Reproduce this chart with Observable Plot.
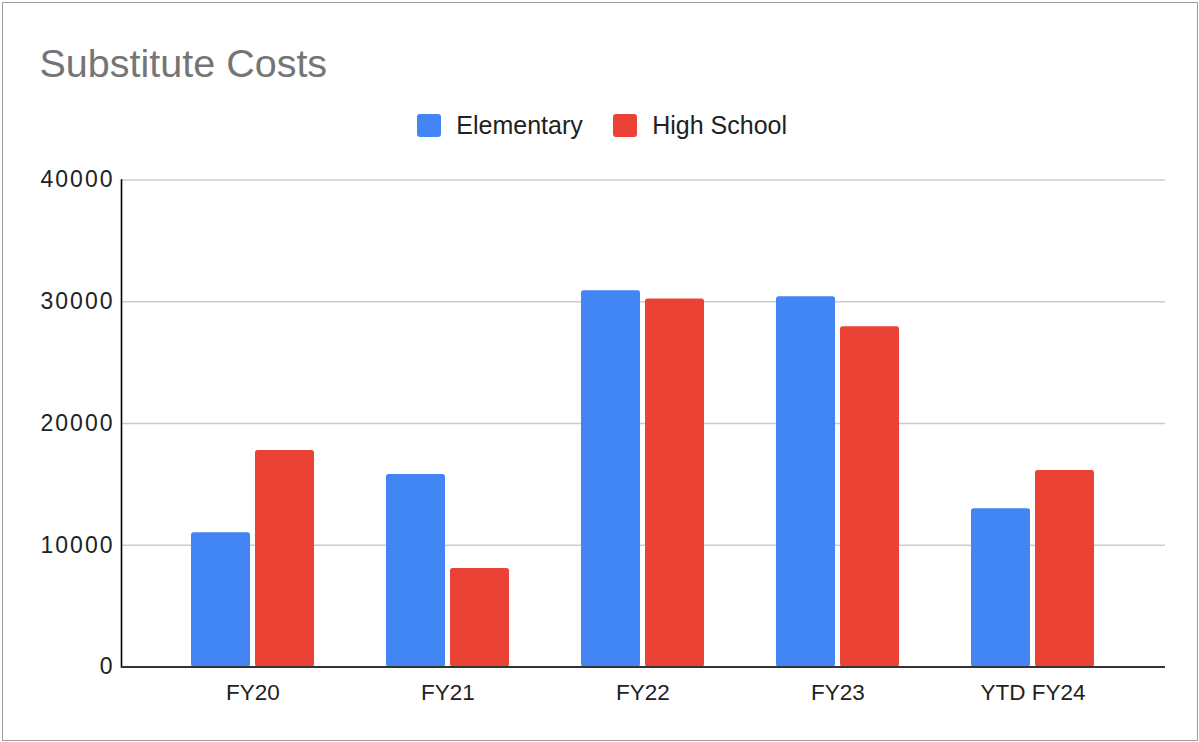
<!DOCTYPE html>
<html><head><meta charset="utf-8">
<script src="https://cdn.jsdelivr.net/npm/d3@7"></script>
<script src="https://cdn.jsdelivr.net/npm/@observablehq/plot@0.6"></script>
<style>
body{margin:0;background:#fff;font-family:"Liberation Sans",Arial,sans-serif;}
#wrap{position:relative;width:1199px;height:742px;overflow:hidden;background:#fff;}
#frame{position:absolute;left:2px;top:2px;width:1196px;height:739px;border:1px solid #9e9e9e;box-sizing:border-box;pointer-events:none;}
#title{position:absolute;left:39.5px;top:43.5px;font-size:39.5px;line-height:1;color:#757575;white-space:nowrap;}
#legend{position:absolute;top:114px;left:0;height:23px;}
.sw{position:absolute;top:0;width:23.5px;height:23px;border-radius:3px;}
.lt{position:absolute;top:-0.9px;font-size:25px;line-height:25px;color:#222;white-space:nowrap;}
#chart{position:absolute;left:0;top:150px;}
#chart svg .yax text{letter-spacing:2px;}
</style>
</head><body>
<div id="wrap">
  <div id="title"></div>
  <div id="legend"></div>
  <div id="chart"></div>
  <div id="frame"></div>
</div>
<script>
const titleText = "Substitute Costs";
const categories = ["FY20", "FY21", "FY22", "FY23", "YTD FY24"];
const seriesNames = ["Elementary", "High School"];
const elementary = [11030, 15810, 30900, 30410, 12990];
const highSchool = [17780, 8100, 30220, 27950, 16140];
const yTicks = [0, 10000, 20000, 30000, 40000];
const colors = ["#4285F4", "#EA4335"];

document.getElementById("title").textContent = titleText;

const legend = document.getElementById("legend");
const legendPos = [{sw: 417.3, tx: 456.3}, {sw: 613.3, tx: 652.2}];
seriesNames.forEach((s, i) => {
  const sw = document.createElement("div");
  sw.className = "sw"; sw.style.left = legendPos[i].sw + "px"; sw.style.background = colors[i];
  const t = document.createElement("div");
  t.className = "lt"; t.style.left = legendPos[i].tx + "px"; t.textContent = s;
  legend.appendChild(sw); legend.appendChild(t);
});

const elemData = categories.map((c, i) => ({cat: c, series: seriesNames[0], value: elementary[i]}));
const hsData = categories.map((c, i) => ({cat: c, series: seriesNames[1], value: highSchool[i]}));

const chart = Plot.plot({
  width: 1199,
  height: 592,
  marginLeft: 121,
  marginRight: 34,
  marginTop: 29.5,
  marginBottom: 75.5,
  x: {domain: categories, paddingInner: 0.367, paddingOuter: 0.347, label: null},
  y: {domain: [0, 40000], label: null},
  color: {domain: seriesNames, range: colors},
  style: {fontFamily: "'Liberation Sans', Arial, sans-serif", fontSize: "22.5px", color: "#222", background: "transparent", overflow: "visible"},
  marks: [
    Plot.gridY(yTicks, {stroke: "#cccccc", strokeOpacity: 1, strokeWidth: 1.4}),
    Plot.barY(elemData, {x: "cat", y: "value", fill: "series", insetRight: 64, rx: 2.5}),
    Plot.barY(hsData, {x: "cat", y: "value", fill: "series", insetLeft: 64, rx: 2.5}),
    Plot.frame({anchor: "left", stroke: "#000", strokeWidth: 1.6}),
    Plot.ruleY([0], {stroke: "#333", strokeWidth: 2}),
    Plot.axisY(yTicks, {tickSize: 0, tickPadding: 7, tickFormat: d => String(d), label: null, fill: "#222", fontSize: "23px", className: "yax"}),
    Plot.axisX({tickSize: 0, tickPadding: 17.5, label: null, fill: "#222"})
  ]
});
document.getElementById("chart").appendChild(chart);
</script>
</body></html>
